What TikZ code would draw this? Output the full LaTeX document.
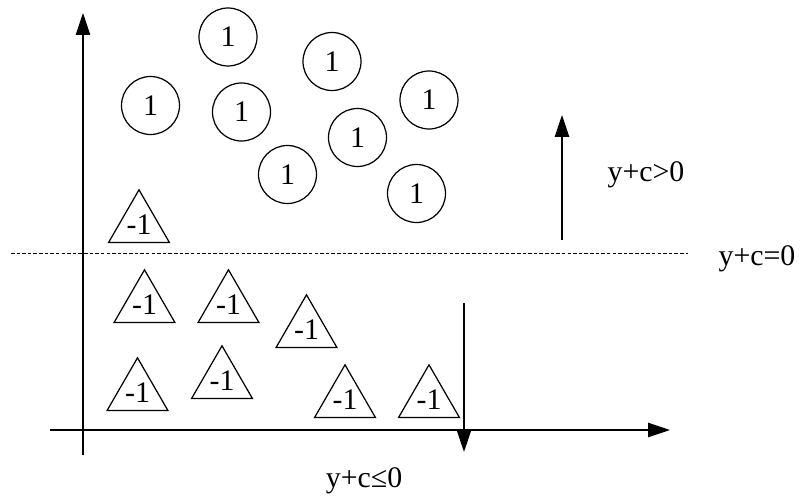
\documentclass[tikz,border=0pt]{standalone}
\usepackage{fontspec}
\setmainfont{Liberation Serif}
\usetikzlibrary{arrows.meta, shapes.geometric}

\begin{document}
\begin{tikzpicture}[
    x=0.02cm, y=-0.02cm,
    every node/.style={font=\fontsize{17}{20}\selectfont},
    posclass/.style={draw, circle, line width=0.7pt, minimum size=1.16cm, inner sep=0pt},
    negclass/.style={draw, regular polygon, regular polygon sides=3, line width=0.7pt,
                minimum size=1.36cm, inner sep=0pt},
    arrow/.style={-{Triangle[length=0.44cm, width=0.29cm]}, line width=0.7pt},
    margin/.style={dash pattern=on 2pt off 1.2pt, line width=0.5pt}
  ]
  \useasboundingbox (0,0) rectangle (806,500);

  % axes
  \coordinate (ybot)   at (83,455);
  \coordinate (ytop)   at (83,13);
  \coordinate (xleft)  at (50,430);
  \coordinate (xright) at (670,430);
  \draw[arrow] (ybot) -- (ytop);
  \draw[arrow] (xleft) -- (xright);

  % separating line
  \coordinate (sepl) at (11,253);
  \coordinate (sepr) at (688,253);
  \draw[margin] (sepl) -- (sepr);
  \node[anchor=base] (eq) at (757,266) {y+c=0};

  % class +1
  \node[posclass] (p1) at (228,37)    {1};
  \node[posclass] (p2) at (332,61.5)  {1};
  \node[posclass] (p3) at (150.5,105.5) {1};
  \node[posclass] (p4) at (241.5,112) {1};
  \node[posclass] (p5) at (357.5,137.5) {1};
  \node[posclass] (p6) at (287.5,174.5) {1};
  \node[posclass] (p7) at (429,100)   {1};
  \node[posclass] (p8) at (416.5,193.5) {1};

  % class -1
  \node[negclass] (n1) at (139,225)   {-1};
  \node[negclass] (n2) at (144.5,305) {-1};
  \node[negclass] (n3) at (228.5,305) {-1};
  \node[negclass] (n4) at (306.5,330) {-1};
  \node[negclass] (n5) at (137.5,393) {-1};
  \node[negclass] (n6) at (222,381)   {-1};
  \node[negclass] (n7) at (345,400)   {-1};
  \node[negclass] (n8) at (429,400)   {-1};

  % directions
  \coordinate (upfrom) at (562,240);
  \coordinate (upto)   at (562,115);
  \draw[arrow] (upfrom) -- (upto);
  \node[anchor=base] (gt) at (646,182) {y+c>0};

  \coordinate (dnfrom) at (464,303);
  \coordinate (dnto)   at (464,452);
  \draw[arrow] (dnfrom) -- (dnto);
  \node[anchor=base] (le) at (364,487) {y+c≤0};
\end{tikzpicture}
\end{document}
